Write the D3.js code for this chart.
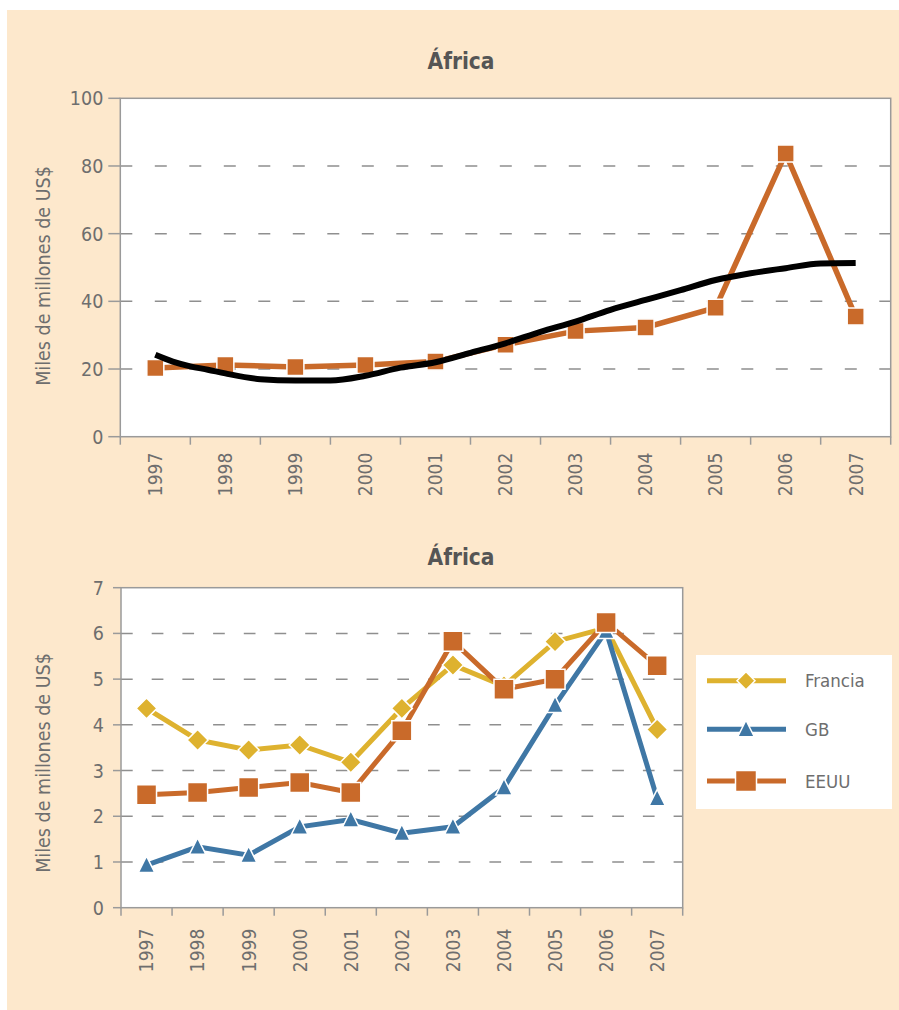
<!DOCTYPE html>
<html>
<head>
<meta charset="utf-8">
<style>
  body { margin: 0; background: #fff; }
  svg { display: block; }
  .lbl { font-family: "Liberation Sans Narrow", "DejaVu Sans Condensed", sans-serif; fill: #6e6e6e; }
  .ttl { font-family: "Liberation Sans Narrow", "DejaVu Sans Condensed", sans-serif; fill: #555; font-weight: bold; }
</style>
<script src="https://d3js.org/d3.v7.min.js"></script>
</head>
<body>
<svg id="chart" width="899" height="1010"></svg>
<script>
  // data
  const years = ['1997', '1998', '1999', '2000', '2001', '2002', '2003', '2004', '2005', '2006', '2007'];

  // top chart: EEUU (orange squares) + black trend curve
  const eeuuTotal = [20.3, 21.2, 20.6, 21.2, 22.2, 27.2, 31.2, 32.3, 38.1, 83.7, 35.5];
  const trendYears = [1997, 1997.25, 1997.5, 1997.75, 1998, 1998.5, 1999, 1999.5, 2000, 2000.5, 2001,
                      2001.5, 2002, 2002.5, 2003, 2003.5, 2004, 2004.5, 2005, 2005.5, 2006, 2006.5, 2007];
  const trendValues = [24.2, 22.2, 20.8, 19.8, 18.7, 17.0, 16.6, 16.6, 18.0, 20.4, 22.0,
                       24.8, 27.6, 31.0, 34.0, 37.5, 40.4, 43.3, 46.3, 48.3, 49.8, 51.2, 51.3];
  const topTicks = [0, 20, 40, 60, 80, 100];

  // bottom chart
  const francia = [4.36, 3.67, 3.45, 3.56, 3.18, 4.36, 5.31, 4.85, 5.82, 6.12, 3.90];
  const gb = [0.93, 1.33, 1.15, 1.77, 1.93, 1.63, 1.77, 2.63, 4.43, 6.05, 2.39];
  const eeuu = [2.47, 2.52, 2.63, 2.74, 2.52, 3.87, 5.83, 4.78, 5.00, 6.24, 5.29];
  const bottomTicks = [0, 1, 2, 3, 4, 5, 6, 7];
  const seriesNames = ['Francia', 'GB', 'EEUU'];

  const GOLD = '#DEB22F', BLUE = '#3F77A5', ORANGE = '#C96A2A';
  const AXIS = '#9a9a9a', GRID = '#8f8f8f';

  const svg = d3.select('#chart');
  svg.append('rect').attr('x', 7).attr('y', 10).attr('width', 892).attr('height', 1000).attr('fill', '#FDE8CC');

  // marker shapes
  function square(s) { return `M${-s/2},${-s/2}h${s}v${s}h${-s}Z`; }
  function diamond(s) { return `M0,${-s/2}L${s/2},0L0,${s/2}L${-s/2},0Z`; }
  function triangle(w) { return `M0,${-w*0.55}L${w/2},${w*0.45}L${-w/2},${w*0.45}Z`; }

  function frame(o) {
    const x = d3.scaleBand().domain(years).range([o.left, o.right]);
    const y = d3.scaleLinear().domain([0, d3.max(o.ticks)]).range([o.bottom, o.top]);
    const g = svg.append('g');

    g.append('rect').attr('x', o.left).attr('y', o.top)
      .attr('width', o.right - o.left).attr('height', o.bottom - o.top).attr('fill', '#fff');

    g.selectAll('.grid').data(o.ticks.slice(1, -1)).enter().append('line')
      .attr('x1', o.left).attr('x2', o.right)
      .attr('y1', d => y(d)).attr('y2', d => y(d))
      .attr('stroke', GRID).attr('stroke-width', 1.5).attr('stroke-dasharray', o.dash);

    g.append('rect').attr('x', o.left).attr('y', o.top)
      .attr('width', o.right - o.left).attr('height', o.bottom - o.top)
      .attr('fill', 'none').attr('stroke', AXIS).attr('stroke-width', 1.5);

    // y ticks + labels
    g.selectAll('.yt').data(o.ticks).enter().append('line')
      .attr('x1', o.left - o.tick).attr('x2', o.left)
      .attr('y1', d => y(d)).attr('y2', d => y(d))
      .attr('stroke', AXIS).attr('stroke-width', 1.5);
    g.selectAll('.yl').data(o.ticks).enter().append('text')
      .attr('class', 'lbl').attr('font-size', 19.5)
      .attr('x', o.left - 17).attr('y', d => y(d)).attr('dy', '0.36em')
      .attr('text-anchor', 'end').text(d => d);

    // x ticks at band edges
    const edges = years.map(d => x(d)).concat([o.right]);
    g.selectAll('.xt').data(edges).enter().append('line')
      .attr('x1', d => d).attr('x2', d => d)
      .attr('y1', o.bottom).attr('y2', o.bottom + 8)
      .attr('stroke', AXIS).attr('stroke-width', 1.5);
    g.selectAll('.xl').data(years).enter().append('text')
      .attr('class', 'lbl').attr('font-size', 19)
      .attr('text-anchor', 'end').attr('dy', '0.36em')
      .attr('transform', d => `translate(${x(d) + x.bandwidth() / 2},${o.bottom + o.yearGap}) rotate(-90)`)
      .text(d => d);

    g.append('text').attr('class', 'ttl').attr('font-size', 22.5)
      .attr('x', 461).attr('y', o.titleY).attr('text-anchor', 'middle').text('África');

    g.append('text').attr('class', 'lbl').attr('font-size', 19.5)
      .attr('text-anchor', 'middle').attr('dy', '0.35em')
      .attr('transform', `translate(43,${o.yTitleY}) rotate(-90)`)
      .text('Miles de millones de US$');

    return { x, y, g, cx: d => x(d) + x.bandwidth() / 2 };
  }

  // ---------- top chart ----------
  const upper = frame({ left: 120.3, right: 890.7, top: 98.3, bottom: 436.7, ticks: topTicks,
                        tick: 12, dash: '12,22.5', yearGap: 16, titleY: 69, yTitleY: 276 });

  const lineTop = d3.line().x((d, i) => upper.cx(years[i])).y(d => upper.y(d));
  upper.g.append('path').datum(eeuuTotal).attr('d', lineTop)
    .attr('fill', 'none').attr('stroke', ORANGE).attr('stroke-width', 5.5);
  upper.g.selectAll('.sq').data(eeuuTotal).enter().append('path')
    .attr('d', square(17))
    .attr('transform', (d, i) => `translate(${upper.cx(years[i])},${upper.y(d)})`)
    .attr('fill', ORANGE).attr('stroke', '#fff').attr('stroke-width', 1.5);

  const xYear = d3.scaleLinear().domain([1997, 2007]).range([upper.cx('1997'), upper.cx('2007')]);
  const trendLine = d3.line().curve(d3.curveMonotoneX)
    .x((d, i) => xYear(trendYears[i])).y(d => upper.y(d));
  upper.g.append('path').datum(trendValues).attr('d', trendLine)
    .attr('fill', 'none').attr('stroke', '#000').attr('stroke-width', 6).attr('stroke-linejoin', 'round');

  // ---------- bottom chart ----------
  const lower = frame({ left: 121, right: 682.7, top: 587.7, bottom: 907.7, ticks: bottomTicks,
                        tick: 8, dash: '11.7,19', yearGap: 21, titleY: 565, yTitleY: 763 });

  const series = [
    { name: seriesNames[0], values: francia, color: GOLD, shape: diamond(21), legendShape: diamond(18) },
    { name: seriesNames[1], values: gb, color: BLUE, shape: triangle(16.5), legendShape: triangle(16.5) },
    { name: seriesNames[2], values: eeuu, color: ORANGE, shape: square(20), legendShape: square(21) }
  ];
  const lineBot = d3.line().x((d, i) => lower.cx(years[i])).y(d => lower.y(d));

  series.forEach(s => {
    lower.g.append('path').datum(s.values).attr('d', lineBot)
      .attr('fill', 'none').attr('stroke', s.color).attr('stroke-width', 5);
  });
  series.forEach(s => {
    lower.g.selectAll(null).data(s.values).enter().append('path')
      .attr('d', s.shape)
      .attr('transform', (d, i) => `translate(${lower.cx(years[i])},${lower.y(d)})`)
      .attr('fill', s.color).attr('stroke', '#fff').attr('stroke-width', 1.5);
  });

  // legend
  const lg = svg.append('g');
  lg.append('rect').attr('x', 696).attr('y', 655).attr('width', 196).attr('height', 154).attr('fill', '#fff');
  const rowY = [680.7, 729.3, 781];
  series.forEach((s, i) => {
    lg.append('line').attr('x1', 707).attr('x2', 786).attr('y1', rowY[i]).attr('y2', rowY[i])
      .attr('stroke', s.color).attr('stroke-width', 5);
    lg.append('path').attr('d', s.legendShape)
      .attr('transform', `translate(746,${rowY[i]})`)
      .attr('fill', s.color).attr('stroke', '#fff').attr('stroke-width', 1.5);
    lg.append('text').attr('class', 'lbl').attr('font-size', 18.5)
      .attr('x', 805).attr('y', rowY[i]).attr('dy', '0.36em').text(s.name);
  });
</script>
</body>
</html>
